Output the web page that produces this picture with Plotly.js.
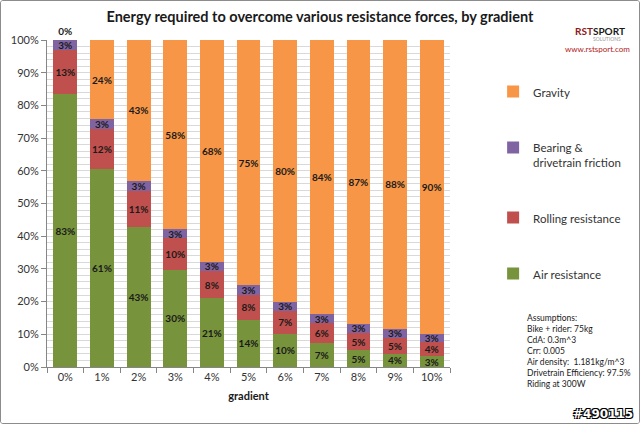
<!DOCTYPE html>
<html>
<head>
<meta charset="utf-8">
<script src="https://cdn.plot.ly/plotly-3.0.1.min.js"></script>
<style>
html,body{margin:0;padding:0;background:#fff;}
#chart{width:640px;height:424px;box-sizing:border-box;border:1px solid #8c8c8c;border-radius:3px;overflow:hidden;}
</style>
</head>
<body>
<div id="chart"></div>
<script>
// Categories (gradient)
const gradients = ['0%','1%','2%','3%','4%','5%','6%','7%','8%','9%','10%'];
// Share of energy, percent
const airResistance     = [83.4, 60.5, 42.9, 29.7, 21.0, 14.4, 10.2, 7.2, 5.1, 4.0, 3.3];
const rollingResistance = [13.4, 12.2, 10.9,  9.7,  8.4,  7.7,  6.9, 6.2, 5.3, 5.0, 4.3];
const bearingFriction   = [ 3.1,  3.1,  3.1,  2.8,  2.8,  2.9,  2.9, 2.8, 2.8, 2.7, 2.6];
const gravity           = [ 0.0, 24.2, 43.1, 57.8, 67.8, 75.0, 80.0, 83.8, 86.8, 88.3, 89.8];

const seriesNames = ['Air resistance','Rolling resistance','Bearing &<br>drivetrain friction','Gravity'];
const seriesColors = ['#77933C','#C0504D','#8064A2','#F79646'];
const seriesData = [airResistance, rollingResistance, bearingFriction, gravity];

const assumptions = ['Assumptions:','Bike + rider: 75kg','CdA: 0.3m^3','Crr: 0.005',
  'Air density:  1.181kg/m^3','Drivetrain Efficiency: 97.5%','Riding at 300W'];

const FONT = 'Lato, "Liberation Sans", sans-serif';

const traces = seriesData.map((vals, i) => ({
  type: 'bar',
  x: gradients,
  y: vals,
  name: seriesNames[i],
  legendgroup: 'g' + i,
  legendrank: 10 - i,
  marker: {color: seriesColors[i], line: {width: 0}},
  texttemplate: '%{y:.0f}%',
  textposition: i === 3 ? vals.map(v => v === 0 ? 'outside' : 'inside') : 'inside',
  insidetextanchor: 'middle',
  constraintext: 'none',
  textangle: 0,
  cliponaxis: false,
  textfont: {family: FONT, size: 10, color: '#1a1a1a', weight: 'bold'},
  insidetextfont: {family: FONT, size: 10, color: '#1a1a1a', weight: 'bold'},
  outsidetextfont: {family: FONT, size: 10, color: '#1a1a1a', weight: 'bold'},
  hoverinfo: 'skip'
}));

const layout = {
  width: 638, height: 422,
  margin: {l: 46, r: 189, t: 39, b: 56, pad: 0, autoexpand: false},
  paper_bgcolor: '#ffffff',
  plot_bgcolor: '#ffffff',
  barmode: 'stack',
  bargap: 0.35,
  font: {family: FONT, size: 11, color: '#333'},
  title: {
    text: 'Energy required to overcome various resistance forces, by gradient',
    font: {family: FONT, size: 14.5, color: '#1a1a1a', weight: 'bold'},
    x: 0.5, xref: 'container', xanchor: 'center',
    y: 0.962, yref: 'container', yanchor: 'middle'
  },
  xaxis: {
    type: 'category',
    tickson: 'boundaries',
    ticks: 'outside', ticklen: 5, tickcolor: '#868686',
    showline: true, linecolor: '#868686', linewidth: 1,
    showgrid: false,
    tickfont: {family: FONT, size: 11, color: '#333'},
    title: {text: 'gradient', font: {family: FONT, size: 11, color: '#1a1a1a', weight: 'bold'}, standoff: 10}
  },
  yaxis: {
    range: [0, 100],
    dtick: 10,
    ticksuffix: '%',
    ticks: 'outside', ticklen: 5, tickcolor: '#868686',
    showline: true, linecolor: '#868686', linewidth: 1,
    showgrid: true, gridcolor: '#d9d9d9', gridwidth: 1,
    minor: {dtick: 2, showgrid: true, gridcolor: '#d9d9d9', gridwidth: 1},
    zeroline: false,
    tickfont: {family: FONT, size: 11, color: '#333'}
  },
  legend: {
    x: 1.107, xanchor: 'left',
    y: 0.885, yanchor: 'top',
    traceorder: 'grouped',
    tracegroupgap: 37,
    valign: 'top',
    itemwidth: 30,
    font: {family: FONT, size: 11.5, color: '#333'},
    bgcolor: 'rgba(0,0,0,0)'
  },
  annotations: [
    {
      text: assumptions.join('<br>'),
      xref: 'paper', yref: 'paper', x: 1.185, y: 0.17,
      xanchor: 'left', yanchor: 'top', align: 'left', showarrow: false,
      font: {family: FONT, size: 8.5, color: '#1a1a1a'}
    },
    {
      text: '<span style="color:#8b1a1a"><b>RST</b></span><b>SPORT</b>',
      xref: 'paper', yref: 'paper', x: 1.372, y: 1.028,
      xanchor: 'center', yanchor: 'middle', showarrow: false,
      font: {family: FONT, size: 10, color: '#1a1a1a'}
    },
    {
      text: 'SOLUTIONS',
      xref: 'paper', yref: 'paper', x: 1.39, y: 1.003,
      xanchor: 'center', yanchor: 'middle', showarrow: false,
      font: {family: FONT, size: 5, color: '#999'}
    },
    {
      text: 'www.rstsport.com',
      xref: 'paper', yref: 'paper', x: 1.367, y: 0.972,
      xanchor: 'center', yanchor: 'middle', showarrow: false,
      font: {family: FONT, size: 8, color: '#b22222'}
    },
    {
      text: '#490115',
      xref: 'paper', yref: 'paper', x: 1.46, y: -0.143,
      xanchor: 'right', yanchor: 'middle', showarrow: false,
      font: {family: '"DejaVu Sans", sans-serif', size: 12, color: '#ffffff', weight: 'bold',
        shadow: '1px 1px 0 #000, -1px -1px 0 #000, 1px -1px 0 #000, -1px 1px 0 #000'}
    }
  ],
  showlegend: true
};

Plotly.newPlot('chart', traces, layout, {displayModeBar: false, staticPlot: true});
</script>
</body>
</html>
